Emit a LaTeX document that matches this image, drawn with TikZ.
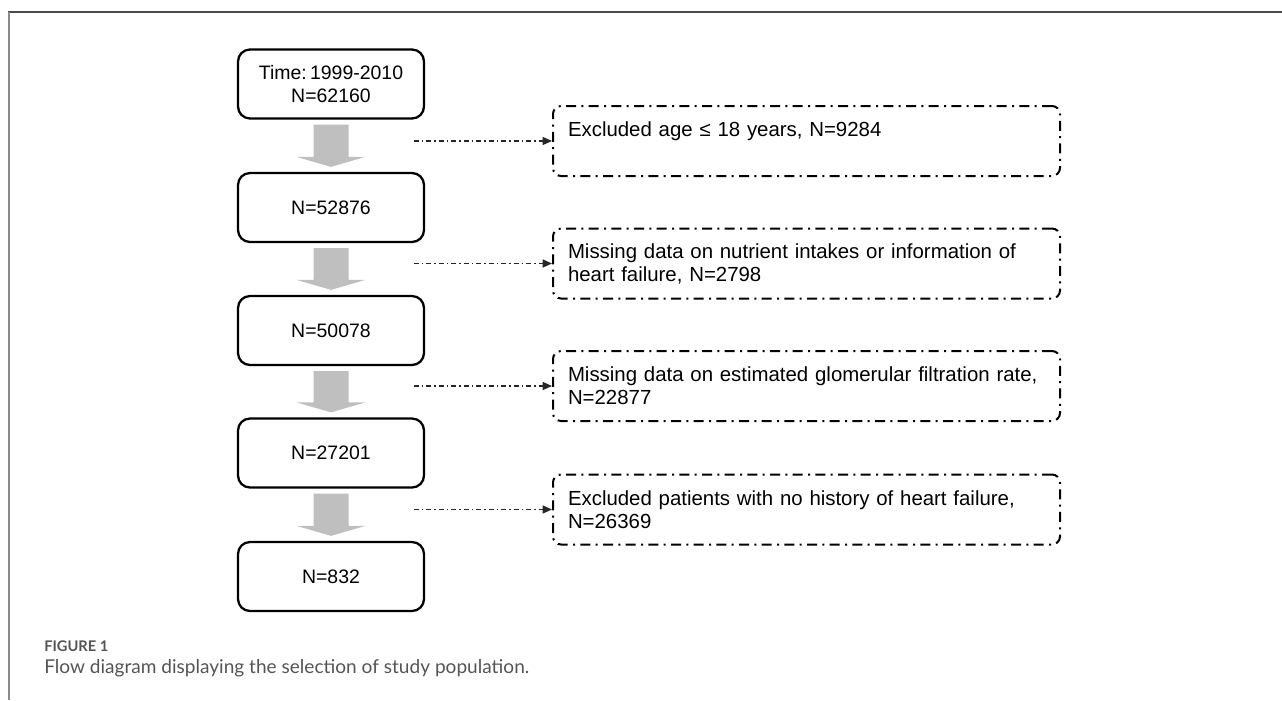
\documentclass[tikz,border=0pt]{standalone}
\usepackage{fontspec}
\setmainfont{Liberation Sans}
\newfontfamily\captionfont{Lato}
\usetikzlibrary{arrows.meta,calc}
\definecolor{flowgray}{HTML}{BFBFBF}
\definecolor{capgray}{HTML}{555555}
\definecolor{ruletop}{HTML}{4A4A4A}
\definecolor{ruleleft}{HTML}{8A8A8A}
\begin{document}
\begin{tikzpicture}[x=0.75pt,y=-0.75pt,
  boxfont/.style={font=\fontsize{14.6}{17.25}\selectfont},
  exclfont/.style={font=\fontsize{15.3}{17.25}\selectfont},
  stagebox/.style={boxfont, draw=black, line width=1.7pt, rounded corners=9pt,
    minimum width=139.5pt, minimum height=51.75pt, align=center, inner sep=0pt},
  exclbox/.style={exclfont, draw=black, line width=1.5pt, rounded corners=6pt,
    dash pattern=on 7.5pt off 4pt on 1.5pt off 4pt,
    minimum width=380.25pt, minimum height=52.5pt, text width=357.75pt,
    align=left, inner xsep=11.25pt, inner ysep=0pt},
  exclarrow/.style={draw=black!85, line width=0.9pt,
    dash pattern=on 3.75pt off 2.25pt on 1.1pt off 2.25pt,
    -{Triangle[length=7pt,width=6pt]}},
]
\path[use as bounding box] (0,0) rectangle (1282,700);

% figure frame
\draw[ruletop, line width=1.1pt] (8,12) -- (1282,12);
\draw[ruleleft, line width=1.4pt] (9,12) -- (9,700);

% main stages
\node[stagebox] (s1) at (331,84)    {Time:\,1999-2010\\N=62160};
\node[stagebox] (s2) at (331,207.5) {N=52876};
\node[stagebox] (s3) at (331,330.5) {N=50078};
\node[stagebox] (s4) at (331,453)   {N=27201};
\node[stagebox] (s5) at (331,576.5) {N=832};

% exclusions
\node[exclbox] (r1) at (806.5,141)   {Excluded age ≤ 18 years, N=9284\\\mbox{}};
\node[exclbox] (r2) at (806.5,263.5) {Missing data on nutrient intakes or information of\\heart failure, N=2798};
\node[exclbox] (r3) at (806.5,386)   {Missing data on estimated glomerular filtration rate,\\N=22877};
\node[exclbox] (r4) at (806.5,509.5) {Excluded patients with no history of heart failure,\\N=26369};

% broad gray arrows between stages
\foreach \a/\b in {s1/s2,s2/s3,s3/s4,s4/s5}{
  \fill[flowgray]
    ($(\a.south)+(-17.5,5)$) -- ($(\b.north)+(-17.5,-15)$) --
    ($(\b.north)+(-34.5,-15)$) -- ($(\b.north)+(0,-5)$) --
    ($(\b.north)+(34.5,-15)$) -- ($(\b.north)+(17.5,-15)$) --
    ($(\a.south)+(17.5,5)$) -- cycle;
}

% exclusion connectors
\coordinate (xstart) at (414,0);
\foreach \r in {r1,r2,r3,r4}{
  \draw[exclarrow] (xstart |- \r.west) -- (\r.west);
}

% caption
\node[anchor=west, inner sep=0pt, text=capgray,
  font=\captionfont\bfseries\fontsize{11}{13}\selectfont] (figlabel) at (44,646) {FIGURE 1};
\node[anchor=west, inner sep=0pt, text=capgray,
  font=\captionfont\fontsize{14.3}{16}\selectfont] (figcaption) at (44,668)
  {Flow diagram displaying the selection of study population.};
\end{tikzpicture}
\end{document}
